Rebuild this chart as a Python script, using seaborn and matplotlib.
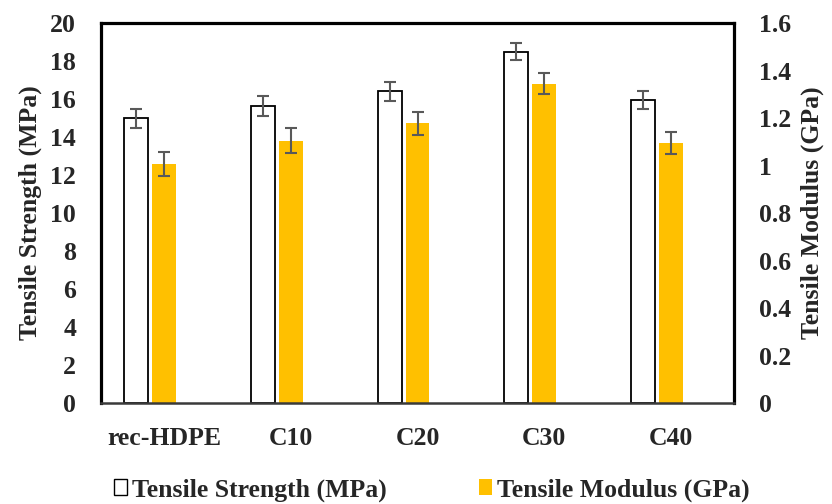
import numpy as np
import pandas as pd
import matplotlib
matplotlib.use("Agg")
import matplotlib.pyplot as plt
import seaborn as sns
from matplotlib.patches import Patch
from matplotlib.ticker import FuncFormatter

# ---------------- data ----------------
samples = ["rec-HDPE", "C10", "C20", "C30", "C40"]
strength = [15.0, 15.65, 16.4, 18.5, 15.95]          # MPa
strength_err = [0.5, 0.52, 0.5, 0.46, 0.47]
modulus = [1.005, 1.105, 1.178, 1.345, 1.095]        # GPa
modulus_err = [0.05, 0.053, 0.049, 0.044, 0.048]
left_ticks = [0, 2, 4, 6, 8, 10, 12, 14, 16, 18, 20]
right_ticks = [0, 0.2, 0.4, 0.6, 0.8, 1.0, 1.2, 1.4, 1.6]

S_LABEL = "Tensile Strength (MPa)"
M_LABEL = "Tensile Modulus (GPa)"
hue_levels = [S_LABEL, M_LABEL, " "]   # third slot is empty (as in the original)

# ---------------- style ----------------
sns.set_theme(style="white")
plt.rcParams["font.family"] = ["Liberation Serif", "DejaVu Serif"]
plt.rcParams["font.weight"] = "bold"
plt.rcParams["axes.labelweight"] = "bold"
FS = 18.5
GOLD = "#FFC000"
ERR = "#595959"

fig = plt.figure(figsize=(8.32, 5.04), dpi=100)
ax = fig.add_axes([101 / 832, 1 - 403 / 504, 633 / 832, 380 / 504])
ax2 = ax.twinx()

df_s = pd.DataFrame({"Sample": samples, "Value": strength, "Series": S_LABEL})
df_m = pd.DataFrame({"Sample": samples, "Value": modulus, "Series": M_LABEL})
pal = {S_LABEL: "white", M_LABEL: GOLD, " ": "white"}

sns.barplot(data=df_s, x="Sample", y="Value", hue="Series", order=samples,
            hue_order=hue_levels, palette=pal, width=0.66, gap=0.14,
            dodge=True, saturation=1, errorbar=None, edgecolor="black",
            linewidth=1.3, legend=False, ax=ax)
sns.barplot(data=df_m, x="Sample", y="Value", hue="Series", order=samples,
            hue_order=hue_levels, palette=pal, width=0.66, gap=0.14,
            dodge=True, saturation=1, errorbar=None, linewidth=0,
            legend=False, ax=ax2)

# error bars, placed at the bars drawn by seaborn
def bar_centers(a):
    ps = [p for p in a.patches if p.get_height() > 0]
    ps.sort(key=lambda p: p.get_x())
    return [p.get_x() + p.get_width() / 2 for p in ps]

ax.errorbar(bar_centers(ax), strength, yerr=strength_err, fmt="none",
            ecolor=ERR, elinewidth=1.5, capsize=4, capthick=1.5, zorder=5)
ax2.errorbar(bar_centers(ax2), modulus, yerr=modulus_err, fmt="none",
             ecolor=ERR, elinewidth=1.5, capsize=4, capthick=1.5, zorder=5)

# axes
ax.set_xlim(-0.5, len(samples) - 0.5)
ax.set_ylim(0, 20)
ax2.set_ylim(0, 1.6)
ax.set_yticks(left_ticks)
ax2.set_yticks(right_ticks)
fmt = FuncFormatter(lambda v, p: f"{v:g}")
ax.yaxis.set_major_formatter(fmt)
ax2.yaxis.set_major_formatter(fmt)
ax.tick_params(axis="y", length=0, pad=18, labelsize=FS)
ax2.tick_params(axis="y", length=0, pad=18, labelsize=FS)
ax.tick_params(axis="x", length=0, pad=17, labelsize=FS)
ax.set_xlabel("")
ax2.set_xlabel("")

ax.set_ylabel(S_LABEL, fontsize=FS, fontweight="bold")
ax2.set_ylabel(M_LABEL, fontsize=FS, fontweight="bold")
ax.yaxis.set_label_coords((42 - 101) / 633, 0.5)
ax2.yaxis.set_label_coords((801 - 101) / 633, 0.5)

for sp in ax.spines.values():
    sp.set_visible(False)
for name in ["top", "left", "right"]:
    ax2.spines[name].set_visible(True)
    ax2.spines[name].set_color("black")
    ax2.spines[name].set_linewidth(2.3)
ax2.spines["bottom"].set_visible(True)
ax2.spines["bottom"].set_color("#3a3a3a")
ax2.spines["bottom"].set_linewidth(1.8)

handles = [Patch(facecolor="white", edgecolor="black", linewidth=1.0),
           Patch(facecolor=GOLD, edgecolor=GOLD, linewidth=0)]
fig.legend(handles=handles, labels=[S_LABEL, M_LABEL], loc="center",
           bbox_to_anchor=(432 / 832, 1 - 490 / 504), ncol=2, frameon=False,
           handlelength=0.5, handleheight=0.6, handletextpad=0.2,
           columnspacing=3.6, prop={"weight": "bold", "size": 18.5})

fig.savefig("out.png", dpi=100, facecolor="white")
